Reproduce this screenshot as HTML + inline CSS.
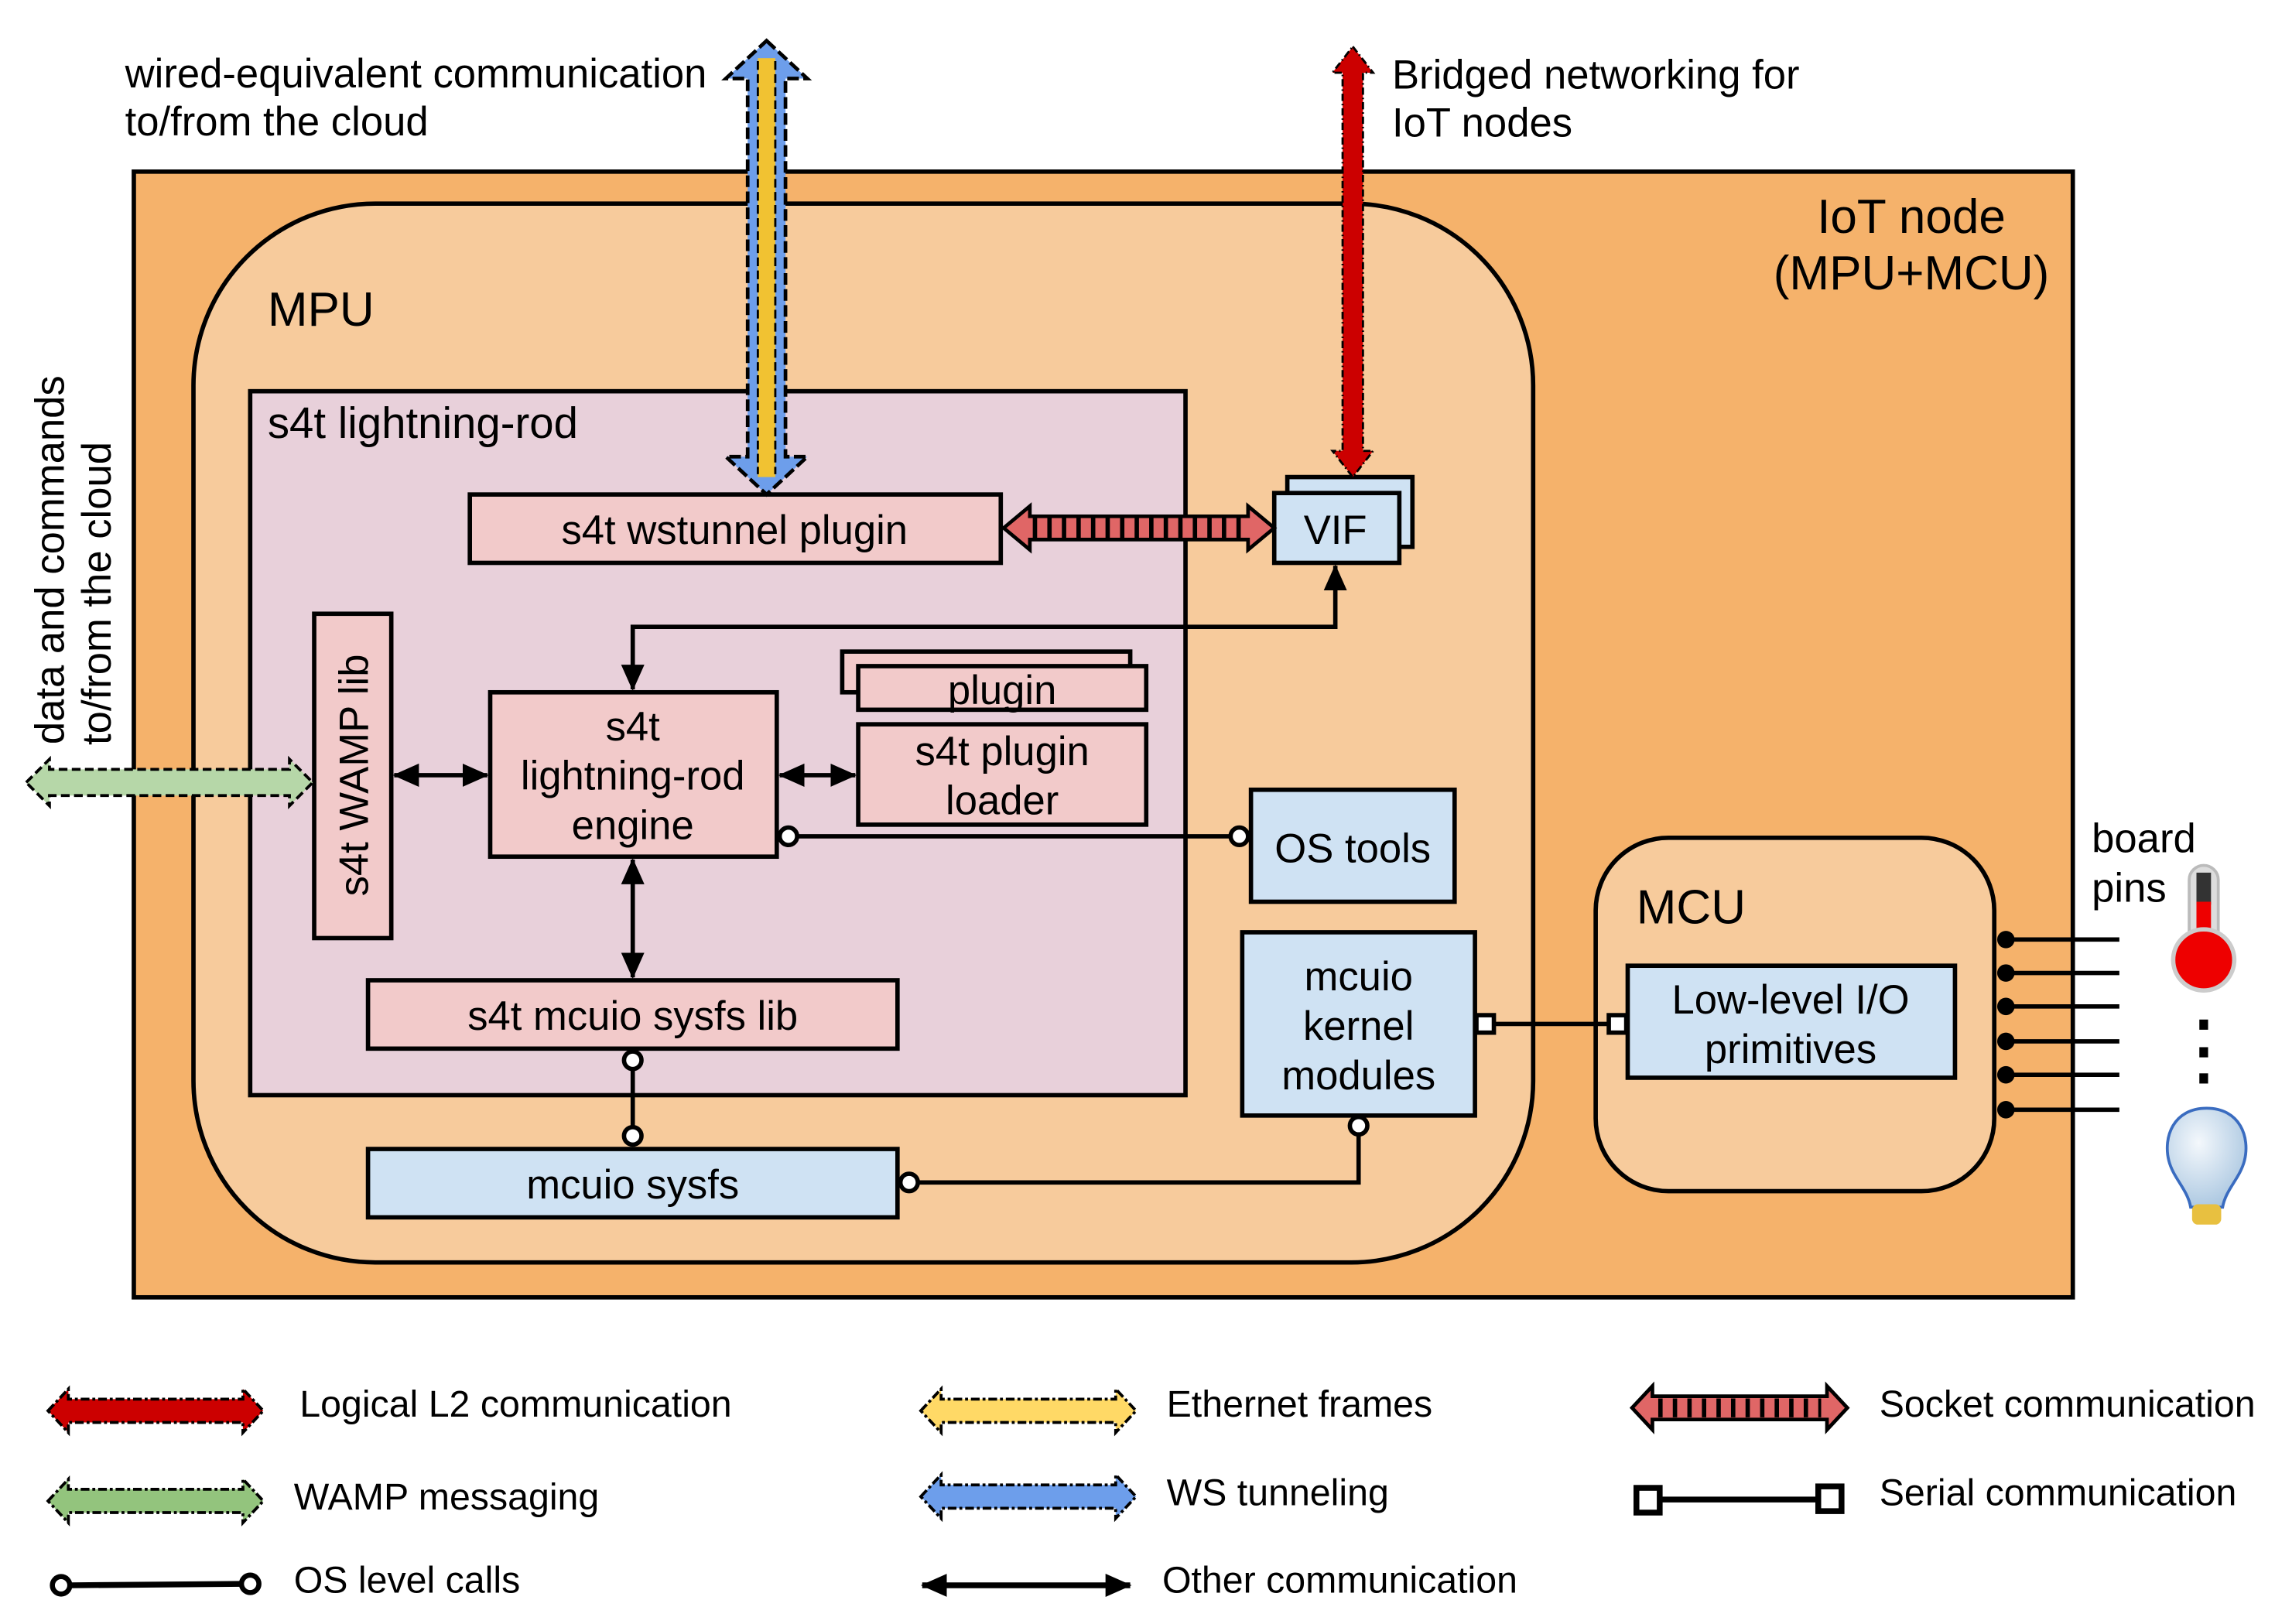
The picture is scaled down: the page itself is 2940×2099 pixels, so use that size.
<!DOCTYPE html>
<html><head><meta charset="utf-8"><style>html,body{margin:0;padding:0;background:#fff}svg{display:block}</style></head>
<body>
<svg width="2940" height="2099" viewBox="0 0 1564 1116.6" preserveAspectRatio="none" xmlns="http://www.w3.org/2000/svg" font-family="'Liberation Sans', Arial, sans-serif">
<defs>
<marker id="ah" markerUnits="userSpaceOnUse" markerWidth="18" markerHeight="18" viewBox="0 0 18 18" refX="17" refY="9" orient="auto-start-reverse"><path d="M0,1 L18,9 L0,17 Z" fill="#000"/></marker>
<radialGradient id="bg" cx="0.4" cy="0.35" r="0.7"><stop offset="0" stop-color="#f4f8fc"/><stop offset="1" stop-color="#a9c6e0"/></radialGradient>
</defs>
<rect width="1564" height="1117" fill="#fff"/>
<rect x="92" y="118" width="1333" height="774" fill="#F5B26B" stroke="#000" stroke-width="3"/>
<rect x="133" y="140" width="921" height="728" rx="125" fill="#F7CB9C" stroke="#000" stroke-width="3"/>
<rect x="172" y="269" width="643" height="484" fill="#E8D0DA" stroke="#000" stroke-width="3"/>
<text x="184" y="301" font-size="30">s4t lightning-rod</text>
<text x="184" y="224" font-size="33">MPU</text>
<text x="1314" y="160" font-size="33" text-anchor="middle">IoT node</text>
<text x="1314" y="199" font-size="33" text-anchor="middle">(MPU+MCU)</text>

<rect x="323" y="340" width="365" height="47" fill="#F2CACA" stroke="#000" stroke-width="3"/>
<text x="505" y="374" font-size="28" text-anchor="middle">s4t wstunnel plugin</text>
<rect x="885" y="328" width="86" height="48" fill="#CFE2F3" stroke="#000" stroke-width="3"/>
<rect x="876" y="339" width="86" height="48" fill="#CFE2F3" stroke="#000" stroke-width="3"/>
<text x="918" y="374" font-size="28" text-anchor="middle">VIF</text>

<rect x="216" y="422" width="53" height="223" fill="#F2CACA" stroke="#000" stroke-width="3"/>
<text transform="translate(253,533) rotate(-90)" font-size="28" text-anchor="middle">s4t WAMP lib</text>

<rect x="337" y="476" width="197" height="113" fill="#F2CACA" stroke="#000" stroke-width="3"/>
<text x="435" y="509" font-size="28" text-anchor="middle">s4t</text>
<text x="435" y="543" font-size="28" text-anchor="middle">lightning-rod</text>
<text x="435" y="577" font-size="28" text-anchor="middle">engine</text>

<rect x="579" y="448" width="198" height="28" fill="#F2CACA" stroke="#000" stroke-width="3"/>
<rect x="590" y="458" width="198" height="30" fill="#F2CACA" stroke="#000" stroke-width="3"/>
<text x="689" y="484" font-size="28" text-anchor="middle">plugin</text>
<rect x="590" y="498" width="198" height="69" fill="#F2CACA" stroke="#000" stroke-width="3"/>
<text x="689" y="526" font-size="28" text-anchor="middle">s4t plugin</text>
<text x="689" y="560" font-size="28" text-anchor="middle">loader</text>

<rect x="860" y="543" width="140" height="77" fill="#CFE2F3" stroke="#000" stroke-width="3"/>
<text x="930" y="593" font-size="28" text-anchor="middle">OS tools</text>

<rect x="854" y="641" width="160" height="126" fill="#CFE2F3" stroke="#000" stroke-width="3"/>
<text x="934" y="681" font-size="28" text-anchor="middle">mcuio</text>
<text x="934" y="715" font-size="28" text-anchor="middle">kernel</text>
<text x="934" y="749" font-size="28" text-anchor="middle">modules</text>

<rect x="253" y="674" width="364" height="47" fill="#F2CACA" stroke="#000" stroke-width="3"/>
<text x="435" y="708" font-size="28" text-anchor="middle">s4t mcuio sysfs lib</text>
<rect x="253" y="790" width="364" height="47" fill="#CFE2F3" stroke="#000" stroke-width="3"/>
<text x="435" y="824" font-size="28" text-anchor="middle">mcuio sysfs</text>

<rect x="1097" y="576" width="274" height="243" rx="50" fill="#F7CB9C" stroke="#000" stroke-width="3"/>
<text x="1125" y="635" font-size="33">MCU</text>
<rect x="1119" y="664" width="225" height="77" fill="#CFE2F3" stroke="#000" stroke-width="3"/>
<text x="1231" y="697" font-size="28" text-anchor="middle">Low-level I/O</text>
<text x="1231" y="731" font-size="28" text-anchor="middle">primitives</text>

<g stroke="#000" stroke-width="3">
<line x1="1379" y1="646" x2="1457" y2="646"/><line x1="1379" y1="669" x2="1457" y2="669"/>
<line x1="1379" y1="692" x2="1457" y2="692"/><line x1="1379" y1="716" x2="1457" y2="716"/>
<line x1="1379" y1="739" x2="1457" y2="739"/><line x1="1379" y1="763" x2="1457" y2="763"/>
</g>
<g fill="#000">
<circle cx="1379" cy="646" r="6"/><circle cx="1379" cy="669" r="6"/><circle cx="1379" cy="692" r="6"/>
<circle cx="1379" cy="716" r="6"/><circle cx="1379" cy="739" r="6"/><circle cx="1379" cy="763" r="6"/>
<rect x="1512" y="701" width="6" height="7"/><rect x="1512" y="720" width="6" height="7"/><rect x="1512" y="738" width="6" height="7"/>
</g>
<text x="1438" y="586" font-size="28">board</text>
<text x="1438" y="620" font-size="28">pins</text>
<rect x="1505" y="595" width="20" height="65" rx="10" fill="#ddd" stroke="#bbb" stroke-width="2"/>
<rect x="1510" y="600" width="10" height="22" fill="#333"/>
<rect x="1510" y="620" width="10" height="40" fill="#e00"/>
<circle cx="1515" cy="660" r="21" fill="#e00" stroke="#ccc" stroke-width="3"/>
<path d="M1517,762 C1540,762 1547,782 1543,798 C1540,810 1530,818 1528,830 L1506,830 C1504,818 1494,810 1491,798 C1487,782 1494,762 1517,762 Z" fill="url(#bg)" stroke="#3a6cc0" stroke-width="2"/>
<rect x="1507" y="828" width="20" height="14" rx="4" fill="#e8c040"/>

<g stroke="#000" stroke-width="3" fill="none">
<line x1="271" y1="533" x2="335" y2="533" marker-start="url(#ah)" marker-end="url(#ah)"/>
<line x1="536" y1="533" x2="588" y2="533" marker-start="url(#ah)" marker-end="url(#ah)"/>
<line x1="435" y1="591" x2="435" y2="672" marker-start="url(#ah)" marker-end="url(#ah)"/>
<polyline points="435,474 435,431 918,431 918,389" marker-start="url(#ah)" marker-end="url(#ah)"/>
<line x1="548" y1="575" x2="846" y2="575"/>
<line x1="435" y1="735" x2="435" y2="775"/>
<polyline points="631,813 934,813 934,780"/>
<line x1="1027" y1="704" x2="1106" y2="704"/>
</g>
<g stroke="#000" stroke-width="3" fill="#fff">
<circle cx="542" cy="575" r="6"/><circle cx="852" cy="575" r="6"/>
<circle cx="435" cy="729" r="6"/><circle cx="435" cy="781" r="6"/>
<circle cx="625" cy="813" r="6"/><circle cx="934" cy="774" r="6"/>
<rect x="1015" y="698" width="12" height="12"/><rect x="1106" y="698" width="12" height="12"/>
</g>

<g transform="translate(527,28) rotate(90)">
<polygon points="0,0 26,-28 26,-13 286,-13 286,-28 312,0 286,28 286,13 26,13 26,28" fill="#6D9EEB" stroke="#000" stroke-width="2.5" stroke-dasharray="8 3"/>
<rect x="12" y="-6" width="288" height="12" fill="#F1C232"/>
<line x1="14" y1="-6" x2="298" y2="-6" stroke="#000" stroke-width="1.5" stroke-dasharray="6 3"/>
<line x1="14" y1="6" x2="298" y2="6" stroke="#000" stroke-width="1.5" stroke-dasharray="6 3"/>
</g>
<g transform="translate(930,32) rotate(90)">
<polygon points="0,0 18,-14 18,-7 278,-7 278,-14 296,0 278,14 278,7 18,7 18,14" fill="#CC0000" stroke="#000" stroke-width="1.5" stroke-dasharray="5 2 1 2"/>
</g>
<g transform="translate(690,363)">
<polygon points="0,0 18,-15 18,-8 168,-8 168,-15 186,0 168,15 168,8 18,8 18,15" fill="#E06666" stroke="#000" stroke-width="2.5"/>
<line x1="20" y1="0" x2="166" y2="0" stroke="#000" stroke-width="14" stroke-dasharray="3 7"/>
</g>
<g transform="translate(18,538)">
<polygon points="0,0 16,-16 16,-9 181,-9 181,-16 197,0 181,16 181,9 16,9 16,16" fill="#B6D7A8" stroke="#000" stroke-width="2" stroke-dasharray="6 3"/>
</g>

<text x="86" y="60" font-size="28">wired-equivalent communication</text>
<text x="86" y="93" font-size="28">to/from the cloud</text>
<text x="957" y="61" font-size="28">Bridged networking for</text>
<text x="957" y="94" font-size="28">IoT nodes</text>
<text transform="translate(44,385) rotate(-90)" font-size="28" text-anchor="middle">data and commands</text>
<text transform="translate(76,408) rotate(-90)" font-size="28" text-anchor="middle">to/from the cloud</text>

<g transform="translate(33,970)"><polygon points="0,0 14,-15 14,-8 134,-8 134,-15 148,0 134,15 134,8 14,8 14,15" fill="#CC0000" stroke="#000" stroke-width="2" stroke-dasharray="6 2 2 2"/></g>
<text x="206" y="974" font-size="25.7">Logical L2 communication</text>
<g transform="translate(633,970)"><polygon points="0,0 14,-15 14,-8 134,-8 134,-15 148,0 134,15 134,8 14,8 14,15" fill="#FFD966" stroke="#000" stroke-width="2" stroke-dasharray="6 2 2 2"/></g>
<text x="802" y="974" font-size="25.7">Ethernet frames</text>
<g transform="translate(1122,968)"><polygon points="0,0 14,-15 14,-8 134,-8 134,-15 148,0 134,15 134,8 14,8 14,15" fill="#E06666" stroke="#000" stroke-width="2.5"/>
<line x1="18" y1="0" x2="130" y2="0" stroke="#000" stroke-width="13" stroke-dasharray="3 7"/></g>
<text x="1292" y="974" font-size="25.7">Socket communication</text>

<g transform="translate(33,1032)"><polygon points="0,0 14,-15 14,-8 134,-8 134,-15 148,0 134,15 134,8 14,8 14,15" fill="#93C47D" stroke="#000" stroke-width="2" stroke-dasharray="6 2 2 2"/></g>
<text x="202" y="1038" font-size="25.7">WAMP messaging</text>
<g transform="translate(633,1029)"><polygon points="0,0 14,-15 14,-8 134,-8 134,-15 148,0 134,15 134,8 14,8 14,15" fill="#6D9EEB" stroke="#000" stroke-width="2" stroke-dasharray="6 2 2 2"/></g>
<text x="802" y="1035" font-size="25.7">WS tunneling</text>
<line x1="1140" y1="1031" x2="1252" y2="1031" stroke="#000" stroke-width="4"/>
<rect x="1125" y="1023" width="16" height="17" fill="#fff" stroke="#000" stroke-width="4"/>
<rect x="1250" y="1022" width="16" height="17" fill="#fff" stroke="#000" stroke-width="4"/>
<text x="1292" y="1035" font-size="25.7">Serial communication</text>

<line x1="48" y1="1090" x2="166" y2="1089" stroke="#000" stroke-width="4"/>
<circle cx="42" cy="1090" r="6" fill="#fff" stroke="#000" stroke-width="3.5"/>
<circle cx="172" cy="1089" r="6" fill="#fff" stroke="#000" stroke-width="3.5"/>
<text x="202" y="1095" font-size="25.7">OS level calls</text>
<line x1="634" y1="1090" x2="777" y2="1090" stroke="#000" stroke-width="4" marker-start="url(#ah)" marker-end="url(#ah)"/>
<text x="799" y="1095" font-size="25.7">Other communication</text>
</svg>
</body></html>
